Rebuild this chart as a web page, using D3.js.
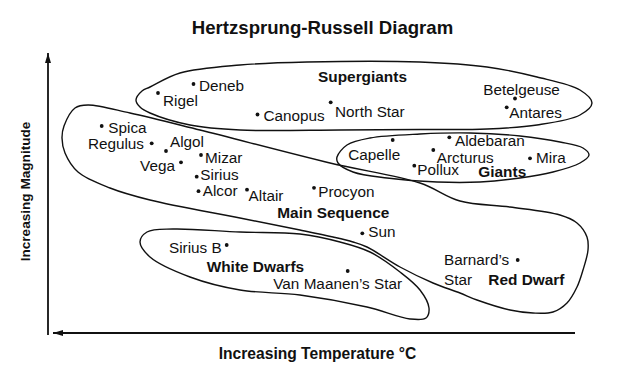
<!DOCTYPE html>
<html>
<head>
<meta charset="utf-8">
<script src="https://cdn.jsdelivr.net/npm/d3@7"></script>
<style>
  html, body { margin: 0; padding: 0; background: #fff; }
  svg { display: block; font-family: "Liberation Sans", Arial, sans-serif; }
</style>
</head>
<body>
<svg id="chart" width="624" height="380"></svg>
<script>
// ---- Data (diagram units: x to the right = cooler, y up = brighter) ----
const starNames = ["Deneb","Rigel","Canopus","North Star","Betelgeuse","Antares",
  "Capelle","Aldebaran","Arcturus","Pollux","Mira",
  "Spica","Regulus","Algol","Vega","Mizar","Sirius","Alcor","Altair","Procyon","Sun",
  "Sirius B","Van Maanen\u2019s Star","Barnard\u2019s Star"];
const starX = [145.5,110,209.5,282.7,467,458.7,
  344.7,401.3,385.3,366.3,482,
  53.7,103.7,118,133,153,148.7,150.5,199,266,314.3,
  178.7,299.7,469.7];
const starY = [249,240,218.5,230.7,234.5,225.7,
  193,195.7,183,167.3,174.7,
  207,189.7,182,170.7,178,156.3,141.8,143.3,145.2,99.7,
  88,62,73];

const groupNames = ["Supergiants","Giants","Main Sequence","White Dwarfs","Red Dwarf"];
const groupLabelX = [270,430.3,229.3,158.7,440.3];
const groupLabelY = [251.3,155.7,114.7,61.3,48];

// region outlines (diagram units)
const supergiantsOutline = [[88,233],[94,242],[102,246],[132,260],[192,268],[259,271],[372,271],
  [439,266],[489,256],[532,243],[544,230],[532,218],[489,208],[439,204],[372,203.5],[292,203],
  [192,203],[142,208],[102,220],[92,226]];
const giantsOutline = [[289,176],[299,188],[322,195],[372,199],[422,200],[472,197],[512,191],
  [535,185],[541,178],[532,170],[505,161],[472,155],[432,151],[389,151],[339,155],[305,161],[290,170]];
const mainSeqOutline = [[14,195],[16,207],[27,225],[40,228],[82,220],[152,203],[282,170],[372,150],
  [412,132],[462,126],[512,118],[529,110],[539,96],[540,83],[535,63],[529,46],[519,30],[505,21],
  [485,20],[462,23],[429,33],[412,40],[385,50],[352,66],[319,86],[305,91],[285,96],[252,103],
  [192,115],[102,133],[62,145],[30,161],[17,180]];
const whiteDwarfOutline = [[92,91],[99,101],[125,104],[192,101],[252,99],[292,91],[322,81],[352,61],
  [372,43],[381,25],[378,15],[362,14],[319,26],[252,38],[192,43],[142,56],[102,76]];

const titleText = "Hertzsprung-Russell Diagram";
const xTitle = "Increasing Temperature \u00B0C";
const yTitle = "Increasing Magnitude";

// ---- Layout (label placement relative to each star dot, in px) ----
const labelDx = [5.5,5,6,4.3,-31.7,2.6, -44.4,5.7,3.4,3,6, 6.6,-7.7,4,-6,4,3.6,4.2,1.6,4.3,6, -5,-74.4,-73.7];
const labelDy = [7,12.5,6.5,14.4,-3.5,11, 20,8.6,13.3,9.3,5, 7.3,5.7,-4.3,8.4,7.7,3.3,4.8,11.3,9,4, 8.3,18.3,5];
const labelAnchor = ["start","start","start","start","start","start","start","start","start","start","start",
  "start","end","start","end","start","start","start","start","start","start","end","start","start"];

// ---- Drawing ----
const svg = d3.select("#chart");
const x = d3.scaleLinear().domain([0, 527]).range([48, 575]);
const y = d3.scaleLinear().domain([0, 278]).range([333, 55]);
const ink = "#111";

const defs = svg.append("defs");
defs.append("marker").attr("id", "arrow")
  .attr("viewBox", "0 0 10 6").attr("refX", 10).attr("refY", 3)
  .attr("markerWidth", 10).attr("markerHeight", 6).attr("markerUnits", "userSpaceOnUse")
  .attr("orient", "auto")
  .append("path").attr("d", "M0,0L10,3L0,6Z").attr("fill", ink);

// axes (no ticks)
svg.append("line")
  .attr("x1", x(0)).attr("y1", y(-2)).attr("x2", x(0)).attr("y2", y(280))
  .attr("stroke", ink).attr("stroke-width", 1.8).attr("marker-end", "url(#arrow)");
svg.append("line")
  .attr("x1", x(527)).attr("y1", y(0)).attr("x2", x(5)).attr("y2", y(0))
  .attr("stroke", ink).attr("stroke-width", 1.8).attr("marker-end", "url(#arrow)");

// titles
svg.append("text").attr("x", 322.5).attr("y", 34).attr("text-anchor", "middle")
  .attr("font-weight", "bold").attr("font-size", 18.6).attr("fill", ink).text(titleText);
svg.append("text").attr("x", 317.5).attr("y", 358.5).attr("text-anchor", "middle")
  .attr("font-weight", "bold").attr("font-size", 15.6).attr("fill", ink).text(xTitle);
svg.append("text").attr("transform", "translate(30,191.5) rotate(-90)").attr("text-anchor", "middle")
  .attr("font-weight", "bold").attr("font-size", 13.6).attr("fill", ink).text(yTitle);

// region outlines
const outline = d3.line().x(d => x(d[0])).y(d => y(d[1])).curve(d3.curveCatmullRomClosed.alpha(0.5));
[supergiantsOutline, giantsOutline, mainSeqOutline, whiteDwarfOutline].forEach(pts => {
  svg.append("path").attr("d", outline(pts)).attr("fill", "none")
    .attr("stroke", ink).attr("stroke-width", 1.4);
});

// group labels
svg.selectAll("text.group").data(groupNames).join("text").attr("class", "group")
  .attr("x", (d, i) => x(groupLabelX[i])).attr("y", (d, i) => y(groupLabelY[i]))
  .attr("font-weight", "bold").attr("font-size", 15.4).attr("fill", ink).text(d => d);

// stars
const stars = starNames.map((n, i) => ({ name: n, sx: starX[i], sy: starY[i], i }));
svg.selectAll("circle.star").data(stars).join("circle").attr("class", "star")
  .attr("cx", d => x(d.sx)).attr("cy", d => y(d.sy)).attr("r", 1.9).attr("fill", ink);

const labels = svg.selectAll("text.star").data(stars).join("text").attr("class", "star")
  .attr("x", d => x(d.sx) + labelDx[d.i]).attr("y", d => y(d.sy) + labelDy[d.i])
  .attr("text-anchor", d => labelAnchor[d.i])
  .attr("font-size", 15.3).attr("fill", ink);
labels.each(function(d) {
  const t = d3.select(this);
  if (d.name.startsWith("Barnard")) {
    const parts = d.name.split(" ");
    t.append("tspan").attr("x", x(d.sx) + labelDx[d.i]).text(parts[0]);
    t.append("tspan").attr("x", x(d.sx) + labelDx[d.i]).attr("dy", 20).text(parts[1]);
  } else {
    t.text(d.name);
  }
});
</script>
</body>
</html>
